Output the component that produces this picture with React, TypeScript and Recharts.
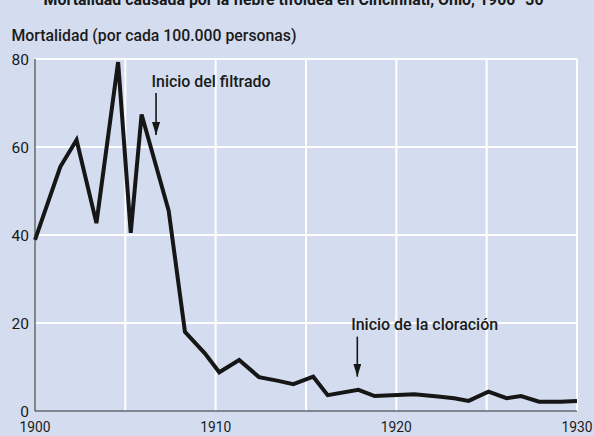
import React from "react";
import {
  LineChart,
  Line,
  XAxis,
  YAxis,
  CartesianGrid,
  ReferenceLine,
  ReferenceDot,
} from "recharts";

// typhoid mortality per 100,000, Cincinnati (x = year as drawn on the original)
const years = [
  1900, 1901.4, 1902.3, 1903.4, 1904.6, 1905.3, 1905.9, 1907.4, 1908.3, 1909.4,
  1910.2, 1911.3, 1912.4, 1913.4, 1914.3, 1915.4, 1916.2, 1917.9, 1918.8, 1921.0,
  1922.3, 1923.2, 1924.0, 1925.1, 1926.1, 1926.9, 1927.9, 1929.1, 1930,
];
const mortality = [
  38.9, 55.5, 61.6, 42.7, 79.3, 40.5, 67.4, 45.5, 18.0, 13.1,
  8.8, 11.6, 7.7, 6.9, 6.1, 7.8, 3.6, 4.8, 3.4, 3.8,
  3.3, 2.9, 2.3, 4.4, 2.9, 3.4, 2.1, 2.1, 2.3,
];

const xTicks = [1900, 1905, 1910, 1915, 1920, 1925, 1930];
const yTicks = [0, 20, 40, 60, 80];

const noteLabels = ["Inicio del filtrado", "Inicio de la cloración"];
const noteYears = [1906.45, 1917.5];
const noteLevels = [74.9, 19.7];
const arrowYears = [1906.7, 1917.84];
const arrowFrom = [72.3, 16.9];
const arrowTo = [62.7, 7.8];

const TITLE = "Mortalidad causada por la fiebre tifoidea en Cincinnati, Ohio, 1900–30";
const Y_TITLE = "Mortalidad (por cada 100.000 personas)";

const FONT = "Roboto, 'Liberation Sans', sans-serif";
const BG = "#d4ddef";
const INK = "#161616";
const TEXT = "#1a1a1a";

const data = years.map((year, i) => ({ year, value: mortality[i] }));

const Arrow = (props: any) => (
  <line
    x1={props.x1}
    y1={props.y1}
    x2={props.x2}
    y2={props.y2}
    stroke={INK}
    strokeWidth={1.6}
    markerEnd="url(#arrowHead)"
  />
);

// year ticks: only the decades get a label, squeezed to a condensed width
const YearTick = (props: any) => {
  const { x, y, payload } = props;
  if (payload.value % 10 !== 0) return null;
  return (
    <text
      x={x}
      y={y}
      dy="0.71em"
      textAnchor="middle"
      fill={TEXT}
      fontSize={15.5}
      fontFamily={FONT}
      textLength={31}
      lengthAdjust="spacingAndGlyphs"
    >
      {payload.value}
    </text>
  );
};

const ValueTick = (props: any) => {
  const { x, y, payload } = props;
  return (
    <text
      x={x}
      y={y}
      dy="0.355em"
      textAnchor="end"
      fill={TEXT}
      fontSize={15.5}
      fontFamily={FONT}
    >
      {payload.value}
    </text>
  );
};

const noteWidths = [119, 147];

const makeNote = (i: number) => (props: any) => {
  const vb = props.viewBox || {};
  return (
    <text
      x={vb.x}
      y={vb.y}
      dy="0.355em"
      fill={TEXT}
      fontSize={17}
      fontWeight={500}
      fontFamily={FONT}
      textLength={noteWidths[i]}
      lengthAdjust="spacingAndGlyphs"
    >
      {noteLabels[i]}
    </text>
  );
};

export default function App() {
  return (
    <div
      style={{
        position: "fixed",
        left: 0,
        top: 0,
        width: 594,
        height: 436,
        background: BG,
        overflow: "hidden",
        fontFamily: FONT,
      }}
    >
      <LineChart
        width={594}
        height={436}
        data={data}
        margin={{ top: 59, right: 17, bottom: 0, left: 0 }}
      >
        <defs>
          <marker
            id="arrowHead"
            viewBox="0 0 13 8"
            refX={13}
            refY={4}
            markerWidth={13}
            markerHeight={8}
            markerUnits="userSpaceOnUse"
            orient="auto"
          >
            <path d="M0,0 L13,4 L0,8 z" fill={INK} />
          </marker>
        </defs>
        <CartesianGrid
          stroke="#ffffff"
          strokeWidth={2}
          horizontalValues={[20, 40, 60, 80]}
          verticalValues={[1905, 1910, 1915, 1920, 1925, 1930]}
        />
        <XAxis
          dataKey="year"
          type="number"
          domain={[1900, 1930]}
          ticks={xTicks}
          interval={0}
          height={25}
          axisLine={{ stroke: "#2a2a2a", strokeWidth: 1 }}
          tickLine={false}
          tickSize={6}
          tickMargin={4}
          tick={YearTick}
        />
        <YAxis
          type="number"
          domain={[0, 80]}
          ticks={yTicks}
          interval={0}
          width={35}
          axisLine={{ stroke: "#2a2a2a", strokeWidth: 1 }}
          tickLine={false}
          tickSize={6}
          tickMargin={0}
          tick={ValueTick}
        />
        <Line
          type="linear"
          dataKey="value"
          stroke={INK}
          strokeWidth={4}
          strokeLinejoin="miter"
          dot={false}
          activeDot={false}
          isAnimationActive={false}
        />
        {noteLabels.map((label, i) => (
          <ReferenceLine
            key={`arrow-${i}`}
            segment={[
              { x: arrowYears[i], y: arrowFrom[i] },
              { x: arrowYears[i], y: arrowTo[i] },
            ]}
            shape={Arrow}
          />
        ))}
        {noteLabels.map((label, i) => (
          <ReferenceDot
            key={`note-${i}`}
            x={noteYears[i]}
            y={noteLevels[i]}
            r={0}
            fill="none"
            stroke="none"
            label={{ content: makeNote(i) }}
          />
        ))}
      </LineChart>
      <svg
        width={594}
        height={436}
        style={{ position: "absolute", left: 0, top: 0, pointerEvents: "none" }}
      >
        <text
          x={293.6}
          y={4.5}
          textAnchor="middle"
          fontSize={16}
          fontWeight="bold"
          fill={TEXT}
          fontFamily={FONT}
          textLength={500}
          lengthAdjust="spacingAndGlyphs"
        >
          {TITLE}
        </text>
        <text
          x={11.5}
          y={40.5}
          fontSize={16}
          fontWeight={500}
          fill={TEXT}
          fontFamily={FONT}
          textLength={285}
          lengthAdjust="spacingAndGlyphs"
        >
          {Y_TITLE}
        </text>
      </svg>
    </div>
  );
}
